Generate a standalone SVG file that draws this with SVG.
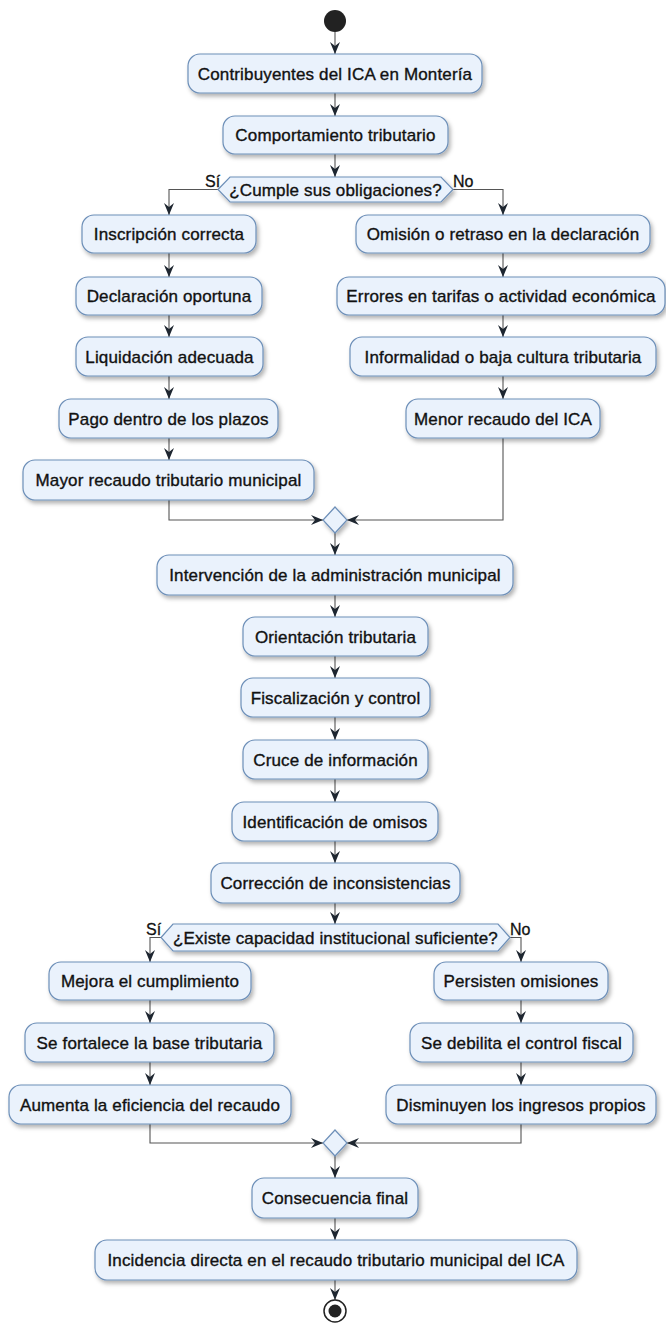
<svg xmlns="http://www.w3.org/2000/svg" width="666" height="1323" viewBox="0 0 666 1323">
<style>
.box{fill:#EAF2FC;stroke:#6D8FB8;stroke-width:1.2;filter:url(#sh)}
.t{font-family:"Liberation Sans",Arial,sans-serif;font-size:17px;letter-spacing:0.15px;fill:#111;stroke:#111;stroke-width:0.35;text-anchor:middle}
.lbl{font-family:"Liberation Sans",Arial,sans-serif;font-size:16px;fill:#111;stroke:#111;stroke-width:0.3}
.ln{fill:none;stroke:#555;stroke-width:1.1;marker-end:url(#ar)}
</style>
<defs>
<filter id="sh" x="-10%" y="-20%" width="130%" height="160%">
<feDropShadow dx="2" dy="3" stdDeviation="2" flood-color="#000" flood-opacity="0.3"/>
</filter>
<marker id="ar" viewBox="0 0 12 10" refX="12" refY="5" markerWidth="12" markerHeight="10" markerUnits="userSpaceOnUse" orient="auto">
<path d="M0,0 L12,5 L0,10 L4,5 Z" fill="#1E2630"/>
</marker>
</defs>
<g id="connectors">
<path class="ln" d="M335,32 V54"/>
<path class="ln" d="M335,93 V116"/>
<path class="ln" d="M335,154 V177"/>
<path class="ln" d="M218,189.5 H169 V215"/>
<path class="ln" d="M453,189.5 H503 V215"/>
<path class="ln" d="M169,253 V277"/>
<path class="ln" d="M169,315 V337"/>
<path class="ln" d="M169,376 V399"/>
<path class="ln" d="M169,438 V460"/>
<path class="ln" d="M503,253 V277"/>
<path class="ln" d="M503,315 V337"/>
<path class="ln" d="M503,376 V399"/>
<path class="ln" d="M169,500 V520 H323"/>
<path class="ln" d="M503,438 V520 H347"/>
<path class="ln" d="M335,533 V555"/>
<path class="ln" d="M335,595 V617"/>
<path class="ln" d="M335,656 V678"/>
<path class="ln" d="M335,717 V740"/>
<path class="ln" d="M335,779 V802"/>
<path class="ln" d="M335,841 V863"/>
<path class="ln" d="M335,903 V924"/>
<path class="ln" d="M161,937.5 H150 V962"/>
<path class="ln" d="M510,937.5 H521 V962"/>
<path class="ln" d="M150,1000 V1023"/>
<path class="ln" d="M150,1062 V1085"/>
<path class="ln" d="M521,1000 V1023"/>
<path class="ln" d="M521,1062 V1085"/>
<path class="ln" d="M150,1124 V1143 H323"/>
<path class="ln" d="M521,1124 V1143 H347"/>
<path class="ln" d="M335,1156 V1178"/>
<path class="ln" d="M335,1218 V1240"/>
<path class="ln" d="M335,1280 V1300"/>
<text class="lbl" x="205" y="187">Sí</text>
<text class="lbl" x="453" y="187">No</text>
<text class="lbl" x="146" y="935">Sí</text>
<text class="lbl" x="510" y="935">No</text>
</g>
<g id="start"><circle cx="335" cy="21" r="11" fill="#222"/></g>
<g id="n1"><rect class="box" x="188" y="54" width="294" height="39" rx="12"/><text class="t" x="335" y="79.5">Contribuyentes del ICA en Montería</text></g>
<g id="n2"><rect class="box" x="223" y="116" width="225" height="38" rx="12"/><text class="t" x="335.5" y="141">Comportamiento tributario</text></g>
<g id="d1"><polygon class="box" points="218,189.5 230,177 441,177 453,189.5 441,202 230,202"/><text class="t" x="335.5" y="195.5">¿Cumple sus obligaciones?</text></g>
<g id="L1"><rect class="box" x="82" y="215" width="174" height="38" rx="12"/><text class="t" x="169" y="240">Inscripción correcta</text></g>
<g id="L2"><rect class="box" x="76" y="277" width="186" height="38" rx="12"/><text class="t" x="169" y="302">Declaración oportuna</text></g>
<g id="L3"><rect class="box" x="76" y="337" width="187" height="39" rx="12"/><text class="t" x="169.5" y="362.5">Liquidación adecuada</text></g>
<g id="L4"><rect class="box" x="59" y="399" width="219" height="39" rx="12"/><text class="t" x="168.5" y="424.5">Pago dentro de los plazos</text></g>
<g id="L5"><rect class="box" x="23" y="460" width="291" height="40" rx="12"/><text class="t" x="168.5" y="486">Mayor recaudo tributario municipal</text></g>
<g id="R1"><rect class="box" x="356" y="215" width="294" height="38" rx="12"/><text class="t" x="503" y="240">Omisión o retraso en la declaración</text></g>
<g id="R2"><rect class="box" x="337" y="277" width="328" height="38" rx="12"/><text class="t" x="501" y="302">Errores en tarifas o actividad económica</text></g>
<g id="R3"><rect class="box" x="350" y="337" width="306" height="39" rx="12"/><text class="t" x="503" y="362.5">Informalidad o baja cultura tributaria</text></g>
<g id="R4"><rect class="box" x="406" y="399" width="194" height="39" rx="12"/><text class="t" x="503" y="424.5">Menor recaudo del ICA</text></g>
<g id="m1"><polygon class="box" points="335,507 347,520 335,533 323,520"/></g>
<g id="n3"><rect class="box" x="157" y="555" width="356" height="40" rx="12"/><text class="t" x="335" y="581">Intervención de la administración municipal</text></g>
<g id="n4"><rect class="box" x="243" y="617" width="185" height="39" rx="12"/><text class="t" x="335.5" y="642.5">Orientación tributaria</text></g>
<g id="n5"><rect class="box" x="241" y="678" width="189" height="39" rx="12"/><text class="t" x="335.5" y="703.5">Fiscalización y control</text></g>
<g id="n6"><rect class="box" x="243" y="740" width="185" height="39" rx="12"/><text class="t" x="335.5" y="765.5">Cruce de información</text></g>
<g id="n7"><rect class="box" x="232" y="802" width="206" height="39" rx="12"/><text class="t" x="335" y="827.5">Identificación de omisos</text></g>
<g id="n8"><rect class="box" x="211" y="863" width="249" height="40" rx="12"/><text class="t" x="335.5" y="889">Corrección de inconsistencias</text></g>
<g id="d2"><polygon class="box" points="161,937.5 173,924 498,924 510,937.5 498,951 173,951"/><text class="t" x="335.5" y="943.5">¿Existe capacidad institucional suficiente?</text></g>
<g id="SL1"><rect class="box" x="49" y="962" width="202" height="38" rx="12"/><text class="t" x="150" y="987">Mejora el cumplimiento</text></g>
<g id="SL2"><rect class="box" x="25" y="1023" width="249" height="39" rx="12"/><text class="t" x="149.5" y="1048.5">Se fortalece la base tributaria</text></g>
<g id="SL3"><rect class="box" x="9" y="1085" width="282" height="39" rx="12"/><text class="t" x="150" y="1110.5">Aumenta la eficiencia del recaudo</text></g>
<g id="SR1"><rect class="box" x="434" y="962" width="174" height="38" rx="12"/><text class="t" x="521" y="987">Persisten omisiones</text></g>
<g id="SR2"><rect class="box" x="410" y="1023" width="223" height="39" rx="12"/><text class="t" x="521.5" y="1048.5">Se debilita el control fiscal</text></g>
<g id="SR3"><rect class="box" x="386" y="1085" width="270" height="39" rx="12"/><text class="t" x="521" y="1110.5">Disminuyen los ingresos propios</text></g>
<g id="m2"><polygon class="box" points="335,1130 347,1143 335,1156 323,1143"/></g>
<g id="n9"><rect class="box" x="252" y="1178" width="166" height="40" rx="12"/><text class="t" x="335" y="1204">Consecuencia final</text></g>
<g id="n10"><rect class="box" x="95" y="1240" width="482" height="40" rx="12"/><text class="t" x="336" y="1266">Incidencia directa en el recaudo tributario municipal del ICA</text></g>
<g id="end"><circle cx="335" cy="1311" r="11" fill="#fff" stroke="#222" stroke-width="1.5"/><circle cx="335" cy="1311" r="6.5" fill="#222"/></g>
</svg>
